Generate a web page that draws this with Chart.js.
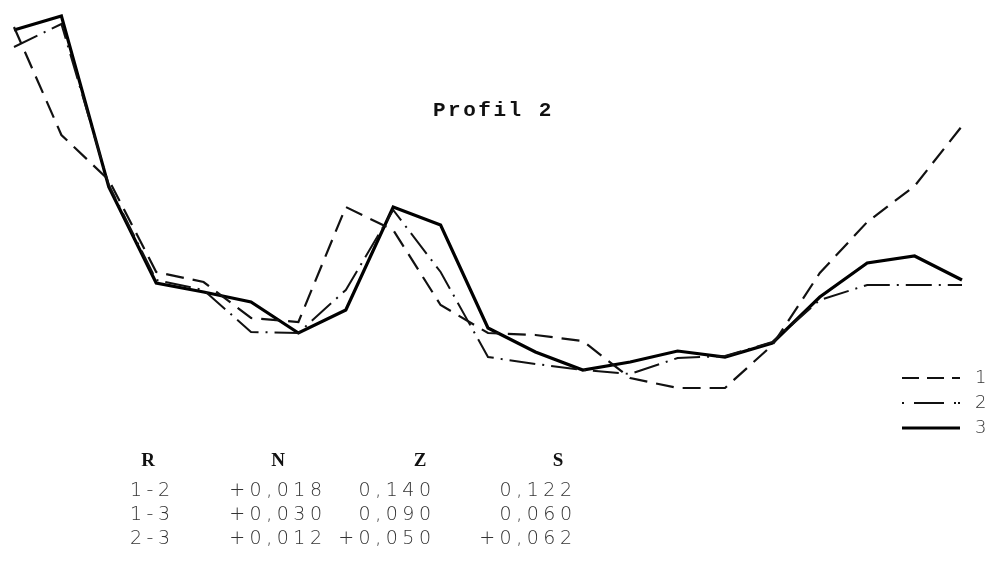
<!DOCTYPE html>
<html>
<head>
<meta charset="utf-8">
<script src="https://cdn.jsdelivr.net/npm/chart.js@4"></script>
<style>
    body { margin: 0; background: #fff; }
    #wrap { position: relative; width: 990px; height: 562px; }
    #title {
        position: absolute; left: 433px; top: 99px;
        font-family: "Liberation Mono", monospace; font-weight: bold; font-size: 21px;
        letter-spacing: 2.5px; color: #111;
    }
    .cell {
        position: absolute; font-family: "DejaVu Sans", sans-serif; font-weight: 200;
        font-size: 19px; letter-spacing: 4.5px; color: #333; white-space: pre;
    }
    .head { font-family: "Liberation Serif", serif; font-weight: bold; font-size: 19px; color: #111; letter-spacing: 0; }
</style>
</head>
<body>
<div id="wrap">
    <canvas id="profilChart" width="990" height="562"></canvas>
    <div id="title">Profil 2</div>
    <div id="table"></div>
</div>
<script>
// Profile points, left to right
const stations = ['1','2','3','4','5','6','7','8','9','10','11','12','13','14','15','16','17','18','19','20','21'];
const series1 = [3.73, 2.65, 2.20, 1.28, 1.18, 0.82, 0.78, 1.93, 1.70, 0.95, 0.67, 0.65, 0.59, 0.22, 0.12, 0.12, 0.55, 1.27, 1.78, 2.14, 2.74];
const series2 = [3.53, 3.76, 2.15, 1.20, 1.10, 0.68, 0.67, 1.10, 1.90, 1.28, 0.43, 0.36, 0.30, 0.26, 0.42, 0.44, 0.58, 1.00, 1.15, 1.15, 1.15];
const series3 = [3.70, 3.84, 2.13, 1.17, 1.08, 0.98, 0.67, 0.90, 1.93, 1.75, 0.72, 0.48, 0.30, 0.38, 0.49, 0.43, 0.57, 1.03, 1.37, 1.44, 1.20];

// Correlation table under the chart
const tableHeads = ['R', 'N', 'Z', 'S'];
const tablePairs = ['1-2', '1-3', '2-3'];
const tableN = ['+0,018', '+0,030', '+0,012'];
const tableZ = ['0,140', '0,090', '+0,050'];
const tableS = ['0,122', '0,060', '+0,062'];

const dash1 = [18, 9];
const dash2 = [26, 7, 2, 7];

const profilData = {
    labels: stations,
    datasets: [
        { label: '1', data: series1, borderColor: '#111', borderWidth: 2.2, borderDash: dash1 },
        { label: '2', data: series2, borderColor: '#111', borderWidth: 2, borderDash: dash2 },
        { label: '3', data: series3, borderColor: '#000', borderWidth: 3.2 }
    ]
};

// legend drawn by hand at the lower right, like the original
const sideLegend = {
    id: 'sideLegend',
    afterDraw(chart) {
        const ctx = chart.ctx;
        const rows = [378, 403, 428];
        chart.data.datasets.forEach((ds, i) => {
            ctx.save();
            ctx.strokeStyle = ds.borderColor;
            ctx.lineWidth = ds.borderWidth;
            ctx.setLineDash(i === 0 ? [17, 8] : (i === 1 ? [2, 10, 30, 10, 2] : []));
            ctx.beginPath();
            ctx.moveTo(902, rows[i]);
            ctx.lineTo(960, rows[i]);
            ctx.stroke();
            ctx.restore();
            ctx.fillStyle = '#333';
            ctx.font = '200 18px "DejaVu Sans"';
            ctx.textBaseline = 'middle';
            ctx.fillText(ds.label, 975, rows[i]);
        });
    }
};

const profilCtx = document.getElementById('profilChart').getContext('2d');
const profilChart = new Chart(profilCtx, {
    type: 'line',
    data: profilData,
    plugins: [sideLegend],
    options: {
        responsive: false,
        animation: false,
        layout: { padding: { left: 14, right: 28, top: 0, bottom: 162 } },
        elements: { point: { radius: 0 }, line: { tension: 0, borderJoinStyle: 'miter' } },
        scales: {
            x: { display: false },
            y: { display: false, min: 0, max: 4 }
        },
        plugins: {
            legend: { display: false },
            tooltip: { enabled: false }
        }
    }
});

// fill the table
const table = document.getElementById('table');
function addCell(text, x, y, cls, align) {
    const d = document.createElement('div');
    d.className = 'cell' + (cls ? ' ' + cls : '');
    d.textContent = text;
    d.style.top = y + 'px';
    if (align === 'right') d.style.right = (990 - x - 4.5) + 'px';
    else if (align === 'center') { d.style.left = (x - 30) + 'px'; d.style.width = '60px'; d.style.textAlign = 'center'; }
    else d.style.left = x + 'px';
    table.appendChild(d);
}
const headX = [148, 278, 420, 558];
tableHeads.forEach((h, i) => addCell(h, headX[i], 449, 'head', 'center'));
const rowY = [478, 502, 526];
tablePairs.forEach((p, i) => {
    addCell(p, 130, rowY[i]);
    addCell(tableN[i], 322, rowY[i], '', 'right');
    addCell(tableZ[i], 431, rowY[i], '', 'right');
    addCell(tableS[i], 572, rowY[i], '', 'right');
});
</script>
</body>
</html>
